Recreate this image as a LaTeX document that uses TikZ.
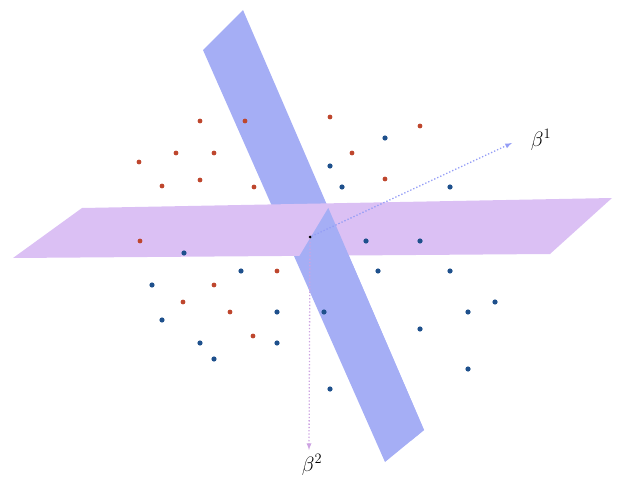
\documentclass[tikz,border=0pt]{standalone}
\begin{document}
\begin{tikzpicture}[x=1pt,y=-1pt]
\definecolor{bplane}{RGB}{165,174,245}
\definecolor{pplane}{RGB}{219,192,244}
\definecolor{rdot}{RGB}{190,70,45}
\definecolor{bdot}{RGB}{30,80,140}
\tikzset{rd/.style={fill=rdot,draw=none},bd/.style={fill=bdot,draw=none}}
\useasboundingbox (0,0) rectangle (624,492);
\fill[bplane] (203,50) -- (243,10) -- (424,430) -- (385,462) -- cycle;
\fill[pplane] (13,258) -- (82,208) -- (612,198) -- (550,254) -- cycle;
\begin{scope}
\clip (330,205) -- (297,260) -- (430,470) -- (460,200) -- cycle;
\fill[bplane] (203,50) -- (243,10) -- (424,430) -- (385,462) -- cycle;
\end{scope}
\foreach \p in {(200,121),(245,121),(330,117),(420,126),(176,153),(214,153),(352,153),(139,162),(200,180),(162,186),(254,187),(385,179),(140,241),(277,271),(214,285),(183,302),(230,312),(253,336)}
  \fill[rd] \p circle (2.4);
\foreach \p in {(385,138),(330,166),(342,187),(450,187),(184,253),(366,241),(420,241),(241,271),(378,271),(450,271),(152,285),(495,302),(162,320),(277,312),(324,312),(468,312),(420,329),(200,343),(214,359),(277,343),(468,369),(330,389)}
  \fill[bd] \p circle (2.6);
\node[circle,fill=black,inner sep=0pt,minimum size=3pt] (o) at (310,237) {};
\coordinate (e1) at (512,143);
\coordinate (e2) at (309,450);
\draw[bplane!90!blue,dotted,line width=1.3pt,-latex] (o) -- (e1);
\draw[pplane!85!violet,dotted,line width=1.3pt,-latex] (o) -- (e2);
\node[font=\fontsize{21}{25}\selectfont] (b1) at (541,140) {$\beta^1$};
\node[font=\fontsize{21}{25}\selectfont] (b2) at (312,465) {$\beta^2$};
\end{tikzpicture}
\end{document}
